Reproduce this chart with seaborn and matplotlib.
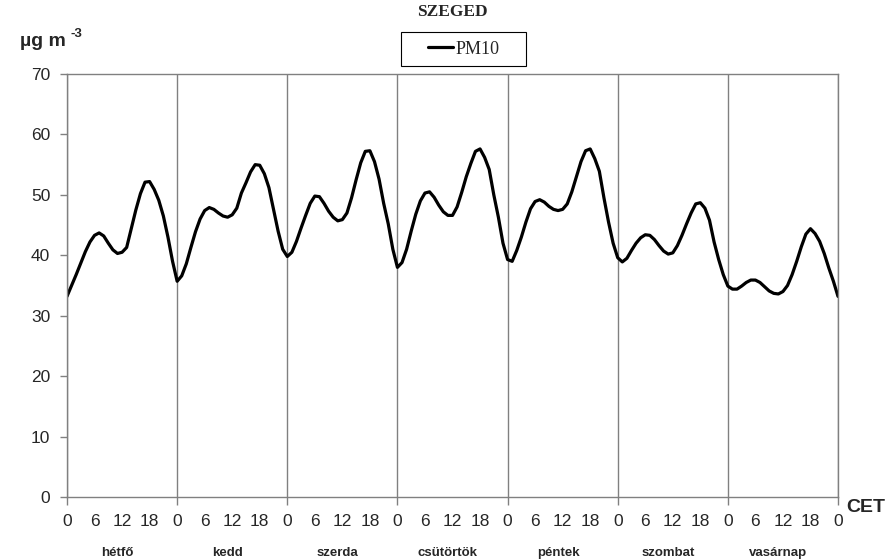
import numpy as np
import pandas as pd
import matplotlib
matplotlib.use("Agg")
import matplotlib.pyplot as plt
from matplotlib.patches import Rectangle
import matplotlib.transforms as mtransforms
import seaborn as sns

# órás PM10 átlagok (µg m-3), napok 0-23 óráig
hetfo = [33.2, 35.0, 36.8, 38.7, 40.6, 42.2, 43.3, 43.7, 43.2, 42.0, 40.9, 40.3,
         40.5, 41.3, 44.4, 47.5, 50.2, 52.1, 52.2, 50.9, 49.1, 46.5, 43.0, 39.0]
kedd = [35.7, 36.6, 38.6, 41.3, 43.9, 46.0, 47.4, 47.9, 47.6, 47.0, 46.5, 46.3,
        46.7, 47.8, 50.3, 52.0, 53.8, 55.0, 54.9, 53.5, 51.2, 47.6, 44.0, 41.0]
szerda = [39.8, 40.5, 42.3, 44.5, 46.6, 48.6, 49.8, 49.7, 48.6, 47.3, 46.3, 45.7,
          45.9, 47.0, 49.5, 52.5, 55.3, 57.2, 57.3, 55.5, 52.6, 48.6, 45.2, 41.0]
csutortok = [38.0, 38.8, 41.0, 44.0, 46.8, 49.0, 50.3, 50.5, 49.6, 48.3, 47.2, 46.6,
             46.6, 48.0, 50.4, 53.0, 55.2, 57.2, 57.6, 56.2, 54.2, 50.0, 46.3, 42.0]
pentek = [39.3, 39.0, 40.8, 43.0, 45.5, 47.7, 48.9, 49.2, 48.8, 48.1, 47.6, 47.4,
          47.6, 48.5, 50.5, 53.0, 55.5, 57.3, 57.6, 56.0, 53.9, 49.5, 45.5, 42.0]
szombat = [39.6, 38.9, 39.5, 40.8, 42.0, 42.9, 43.4, 43.3, 42.6, 41.6, 40.7, 40.2,
           40.4, 41.6, 43.3, 45.2, 47.0, 48.5, 48.7, 47.8, 45.8, 42.2, 39.3, 36.8]
vasarnap = [34.9, 34.4, 34.4, 34.9, 35.5, 35.9, 35.9, 35.5, 34.8, 34.1, 33.7, 33.6,
            34.0, 35.0, 36.8, 39.0, 41.4, 43.5, 44.4, 43.6, 42.3, 40.3, 37.9, 35.7]
vege = [33.2]  # vasárnap 24 óra

napok = ['hétfő', 'kedd', 'szerda', 'csütörtök', 'péntek', 'szombat', 'vasárnap']
ora_cimkek = ['0', '6', '12', '18']
y_ticks = [0, 10, 20, 30, 40, 50, 60, 70]

pm10 = hetfo + kedd + szerda + csutortok + pentek + szombat + vasarnap + vege
df = pd.DataFrame({'ora': np.arange(len(pm10)), 'PM10': pm10})

sns.set_style('white')
plt.rcParams['font.family'] = ['Liberation Sans', 'DejaVu Sans']

szurke = '#808080'
W, H = 895, 560
fig = plt.figure(figsize=(W / 100, H / 100), dpi=100)
ax = fig.add_axes([67 / W, 1 - 497 / H, (838 - 67) / W, (497 - 74) / H])

sns.lineplot(data=df, x='ora', y='PM10', ax=ax, color='black', lw=2.3,
             label='PM10', legend=False)

ax.set_xlim(0, 168)
ax.set_ylim(0, 70)
ax.set_xlabel('')
ax.set_ylabel('')

# x tengely: 6 óránkénti feliratok, napváltásnál osztás
ax.xaxis.remove_overlapping_locs = False
ax.set_xticks(range(0, 169, 6))
ax.set_xticklabels(ora_cimkek * 7 + ['0'])
ax.set_xticks(range(0, 169, 24), minor=True)
ax.tick_params(axis='x', which='major', length=0, labelsize=12.5, pad=12)
ax.tick_params(axis='x', which='minor', length=6, width=1, color=szurke,
               bottom=True)
ax.grid(True, axis='x', which='minor', color=szurke, lw=1)
ax.grid(False, axis='x', which='major')
ax.grid(False, axis='y')

ax.set_yticks(y_ticks)
ax.tick_params(axis='y', length=5, width=1, color=szurke, labelsize=12.5,
               pad=7, left=True)

for s in ax.spines.values():
    s.set_color(szurke)
    s.set_linewidth(1)

# napnevek
trans = mtransforms.blended_transform_factory(ax.transData, fig.transFigure)
for i, nap in enumerate(napok):
    ax.text(24 * i + 11, 1 - 556 / H, nap, transform=trans,
            ha='center', va='baseline', fontsize=9.5, fontweight='bold')

# cím, mértékegység, CET
fig.text(452 / W, 1 - 12 / H, 'SZEGED', ha='center', va='center',
         family='Liberation Serif', fontweight='bold', fontsize=12.5)
fig.text(20 / W, 1 - 46 / H, 'µg m', ha='left', va='baseline',
         fontweight='bold', fontsize=14)
fig.text(71 / W, 1 - 37 / H, '-3', ha='left', va='baseline',
         fontweight='bold', fontsize=9.5)
fig.text(865.5 / W, 1 - 507.5 / H, 'CET', ha='center', va='center',
         fontweight='bold', fontsize=14)

# jelmagyarázat kerettel
fig.patches.append(Rectangle((401 / W, 1 - 66 / H), 125 / W, 34 / H,
                             transform=fig.transFigure, fill=False,
                             edgecolor='black', lw=0.8))
fig.legend(handles=ax.get_lines()[:1], labels=['PM10'], loc='center',
           bbox_to_anchor=(463.5 / W, 1 - 49 / H), frameon=False,
           prop={'family': 'Liberation Serif', 'size': 13},
           handlelength=1.4, handletextpad=0.15, borderpad=0.2)

fig.savefig('out.png', dpi=100)
